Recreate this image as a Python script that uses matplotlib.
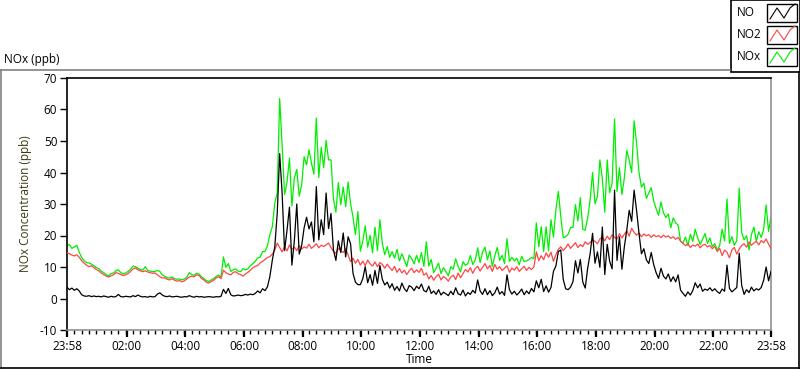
import numpy as np
import matplotlib
matplotlib.use("Agg")
import matplotlib.pyplot as plt
from matplotlib.lines import Line2D
from matplotlib.patches import Rectangle

# 5-minute samples starting at 23:58 (one row per hour)
no2 = [
    14.5,14.2,13.8,13.5,13.9,13.1,12.0,11.2,10.6,10.1,10.4,9.8,
    9.2,8.8,8.1,7.6,7.1,6.8,7.2,7.5,8.2,8.0,7.6,7.3,
    7.5,7.9,8.6,9.4,9.7,9.1,8.8,8.5,8.8,8.4,8.2,8.0,
    8.1,7.5,6.9,6.5,6.6,6.1,5.9,6.3,5.8,5.5,5.7,5.3,
    5.6,6.2,6.8,7.1,6.9,7.5,7.3,6.4,5.9,5.2,4.9,5.4,
    5.8,6.5,6.9,6.3,9.0,8.2,7.8,7.5,8.3,8.5,7.9,7.6,
    7.1,7.8,8.3,9.0,9.7,10.2,10.5,11.3,11.8,12.4,13.0,13.3,
    14.1,15.4,17.6,16.2,14.8,16.5,15.1,17.0,15.6,16.3,15.2,16.8,
    15.7,16.4,16.0,17.2,15.9,16.6,17.4,16.1,16.9,16.5,17.0,17.6,
    16.2,15.0,14.3,16.0,15.1,14.6,15.8,13.8,11.7,12.8,11.2,12.4,
    10.6,11.9,10.4,12.2,11.0,10.3,11.6,10.1,11.4,10.8,9.6,10.9,
    9.8,8.9,10.2,8.3,9.5,8.1,9.0,7.6,8.8,9.6,8.2,9.1,
    8.3,9.6,7.4,8.1,6.2,7.3,5.8,6.9,7.7,5.9,7.0,6.4,
    5.5,6.8,7.4,6.0,8.1,6.6,7.9,9.2,8.4,9.8,8.0,9.5,
    10.2,8.7,9.9,11.1,9.4,10.5,8.6,10.8,9.3,10.1,8.9,9.6,
    10.4,8.3,9.7,9.0,10.1,8.6,9.4,10.2,8.9,9.9,9.2,10.0,
    14.8,12.0,13.6,12.3,14.5,13.1,14.7,11.8,13.9,15.6,16.4,15.2,
    16.1,17.3,15.9,16.8,17.7,16.2,17.1,16.5,18.0,17.2,17.8,18.6,
    18.1,17.4,18.9,19.5,18.3,19.8,18.7,20.2,19.4,18.9,20.6,19.2,
    20.4,21.5,19.8,22.3,21.0,20.1,20.8,19.6,20.5,19.9,20.3,19.4,
    20.2,19.6,20.0,19.3,20.1,19.5,19.9,19.1,19.6,18.8,19.4,18.2,
    17.5,16.8,17.4,16.2,17.0,16.6,17.3,16.1,16.9,17.2,16.4,16.8,
    15.8,16.6,14.9,15.9,13.6,15.4,14.7,12.9,15.5,16.2,14.1,15.7,
    16.8,17.4,16.3,17.9,16.9,17.6,18.2,17.0,18.4,17.7,18.9,17.3,
    15.8,
]

no = [
    3.6,2.8,3.3,2.6,3.1,2.4,1.2,0.8,0.7,0.9,0.6,0.8,
    0.6,0.7,0.5,0.8,0.6,0.4,0.7,0.5,0.6,1.3,0.6,0.5,
    0.7,0.6,0.5,0.9,0.6,1.1,0.7,0.5,0.6,0.4,0.7,0.5,
    0.6,1.4,1.8,1.1,0.7,0.6,0.8,0.5,0.6,0.7,0.5,0.4,
    0.6,0.5,0.9,0.6,0.4,0.7,0.5,0.6,0.4,0.5,0.6,0.5,
    0.4,0.6,0.5,0.7,2.9,1.6,3.2,1.2,0.8,0.9,1.1,0.9,
    1.0,1.3,1.1,1.4,1.2,1.6,2.4,1.8,3.1,2.5,3.7,7.0,
    12.2,16.4,27.0,46.0,33.5,15.2,21.6,29.0,10.6,18.3,30.0,14.1,
    16.8,22.4,25.8,22.1,24.3,18.0,35.5,18.6,25.0,20.3,33.5,22.2,
    27.0,15.4,12.1,18.3,14.6,20.8,13.2,19.6,17.4,8.0,5.2,4.4,
    4.4,6.3,10.1,5.0,7.6,4.2,8.9,4.8,10.5,6.1,4.3,5.2,
    3.3,4.7,2.6,3.8,2.4,4.9,3.1,2.2,4.1,3.6,2.5,3.9,
    3.1,4.6,2.5,2.1,3.9,1.6,2.4,1.3,2.8,1.1,2.0,1.5,
    0.9,2.3,1.2,3.4,1.5,1.1,2.7,0.8,1.9,1.3,2.6,1.7,
    5.9,2.4,1.3,3.1,1.2,2.5,0.9,1.8,3.6,1.4,2.2,1.0,
    7.5,2.8,1.4,2.3,1.1,1.9,3.0,1.2,2.4,1.5,3.2,2.1,
    5.6,3.4,6.1,2.2,4.0,2.0,3.5,8.6,10.3,14.9,15.4,6.1,
    3.1,2.8,3.6,5.4,12.0,8.1,12.4,5.2,3.3,9.6,14.2,20.7,
    11.2,14.8,9.9,22.7,7.6,17.2,11.8,9.4,34.4,12.1,19.6,9.3,
    16.4,21.7,28.0,24.5,34.4,28.0,20.7,14.2,15.8,12.3,11.1,14.6,
    10.8,8.2,6.4,9.6,7.1,6.2,7.8,5.4,6.9,5.3,7.5,2.7,
    1.6,0.7,2.1,1.1,2.5,5.0,3.4,4.6,2.3,3.0,2.6,3.4,
    2.4,3.1,2.2,1.6,3.0,2.3,10.6,3.2,2.1,2.8,3.5,14.4,
    4.2,1.3,2.8,1.9,3.6,2.4,3.1,2.7,3.5,5.8,10.0,5.6,
    8.6,
]

nox = [
    16.8,17.1,15.9,16.4,16.9,14.7,13.0,12.0,11.4,11.3,10.9,10.4,
    9.8,9.5,8.7,8.2,7.6,7.2,7.9,8.1,8.8,9.1,8.2,7.8,
    8.1,8.6,9.3,10.3,10.1,9.6,9.2,9.0,10.1,8.9,8.7,8.5,
    8.6,8.9,8.6,7.4,7.1,6.6,6.5,6.8,6.3,6.1,6.2,5.9,
    6.2,6.7,8.2,7.6,7.4,8.0,7.8,6.9,6.3,5.7,5.4,5.9,
    6.3,7.0,7.4,6.8,13.2,9.9,11.1,8.6,9.1,9.4,8.7,8.5,
    9.5,9.1,9.4,10.4,11.0,11.8,12.9,13.1,14.9,14.9,16.7,20.3,
    22.8,30.3,33.5,63.5,48.7,33.0,36.8,44.6,29.4,38.2,41.0,32.5,
    36.1,45.0,42.4,47.2,43.0,39.5,57.3,38.4,48.0,41.5,50.2,44.0,
    44.0,31.6,27.4,36.8,29.8,35.4,29.1,37.0,30.2,25.8,20.3,27.6,
    15.0,18.2,23.1,16.3,20.1,14.5,22.6,15.2,25.0,17.4,13.9,16.5,
    13.1,14.9,12.8,15.6,11.9,14.2,12.3,10.1,13.8,12.6,11.0,13.7,
    11.4,14.6,10.2,18.0,10.3,12.4,8.2,9.6,11.2,7.9,9.8,8.6,
    7.2,10.1,9.3,12.6,10.2,8.4,11.7,10.5,11.1,13.6,10.8,12.2,
    16.1,11.4,14.8,16.3,12.3,15.1,10.2,13.5,16.2,12.1,13.7,11.1,
    19.0,11.8,13.1,11.9,12.8,10.7,13.4,11.8,11.9,12.4,13.0,12.6,
    24.0,16.4,22.8,14.9,22.8,15.1,25.0,19.5,28.1,34.0,26.0,19.3,
    19.6,20.4,22.5,22.6,29.8,24.6,32.0,22.0,21.7,25.6,31.2,40.0,
    30.1,32.4,44.0,38.0,27.4,44.0,33.6,36.6,57.0,34.0,41.5,33.0,
    38.2,47.0,44.0,40.0,56.4,49.5,40.0,35.4,36.6,31.8,33.5,35.2,
    31.0,28.5,26.4,30.6,27.2,25.7,26.8,22.5,25.6,24.0,23.3,18.2,
    17.6,19.5,16.8,20.4,18.1,22.0,19.3,17.1,18.8,20.6,17.5,19.2,
    16.5,17.4,15.3,16.8,22.0,18.3,31.6,17.5,19.6,16.9,18.4,35.0,
    21.0,18.6,19.9,15.4,20.3,22.7,18.1,21.2,19.4,22.0,29.7,21.3,
    26.0,
]

tick_minutes = [0, 122, 242, 362, 482, 602, 722, 842, 962, 1082, 1202, 1322, 1440]
tick_labels = ["23:58", "02:00", "04:00", "06:00", "08:00", "10:00", "12:00",
               "14:00", "16:00", "18:00", "20:00", "22:00", "23:58"]
y_ticks = [-10, 0, 10, 20, 30, 40, 50, 60, 70]

series_names = ["NO", "NO2", "NOx"]
series_colors = ["#000000", "#ff4545", "#00ee00"]

W, H = 800, 369
fig = plt.figure(figsize=(W / 100, H / 100), dpi=100)
fig.patch.set_facecolor("white")
plt.rcParams["font.family"] = ["Open Sans", "DejaVu Sans"]

def fx(px):
    return px / W

def fy(py):
    return 1 - py / H

# outer panel border
fig.add_artist(Line2D([fx(0.5), fx(730)], [fy(69.5), fy(69.5)], color="#808080", lw=1.2))
fig.add_artist(Line2D([fx(0.5), fx(0.5)], [fy(69.5), fy(368.5)], color="#808080", lw=1.2))
fig.add_artist(Line2D([fx(0.5), fx(799.5)], [fy(368.3), fy(368.3)], color="#000000", lw=1.2))
fig.add_artist(Line2D([fx(799.3), fx(799.3)], [fy(72), fy(368.5)], color="#000000", lw=1.2))

ax = fig.add_axes([fx(67), fy(330), fx(771) - fx(67), fy(78) - fy(330)])
x = np.arange(len(no)) * 5

ax.plot(x, nox, color=series_colors[2], lw=0.9, zorder=2)
ax.plot(x, no2, color=series_colors[1], lw=0.9, zorder=3)
ax.plot(x, no, color=series_colors[0], lw=0.9, zorder=4)

ax.set_xlim(0, 1440)
ax.set_ylim(-10, 70)
ax.set_yticks(y_ticks)
ax.set_yticklabels([str(v) for v in y_ticks], fontsize=8.5)
ax.set_xticks(tick_minutes)
ax.set_xticklabels(tick_labels, fontsize=8.5)
ax.set_xticks(np.arange(0, 1441, 15), minor=True)
ax.tick_params(axis="y", length=5, width=1, pad=2)
ax.tick_params(axis="x", which="major", length=5, width=1.6, pad=2)
ax.tick_params(axis="x", which="minor", length=3, width=1)
for s in ["top", "left"]:
    ax.spines[s].set_color("black")
    ax.spines[s].set_linewidth(1.2)
for s in ["right", "bottom"]:
    ax.spines[s].set_color("#909090")
    ax.spines[s].set_linewidth(1.2)

ax.set_ylabel("NOx Concentration (ppb)", fontsize=8.5, color="#3a3a10", labelpad=6)
ax.set_xlabel("Time", fontsize=8.5, labelpad=0)

fig.text(fx(4), fy(59), "NOx (ppb)", fontsize=8.5, va="center", ha="left")

# legend box
fig.add_artist(Rectangle((fx(730.5), fy(72)), fx(799.5) - fx(730.5), fy(0) - fy(72),
                         facecolor="white", edgecolor="black", lw=1.2))
rows_y = [13, 35, 57]
for name, col, ry in zip(series_names, series_colors, rows_y):
    fig.text(fx(737), fy(ry), name, fontsize=8.5, va="center", ha="left")
    fig.add_artist(Rectangle((fx(767), fy(ry + 9)), fx(30), fy(0) - fy(18),
                             facecolor="white", edgecolor="black", lw=1))
    zx = [770, 777, 784, 790, 795]
    zy = [ry + 6, ry - 5, ry + 5, ry - 5, ry - 9]
    fig.add_artist(Line2D([fx(v) for v in zx], [fy(v) for v in zy], color=col, lw=0.8))

fig.savefig("out.png", dpi=100, facecolor="white")
